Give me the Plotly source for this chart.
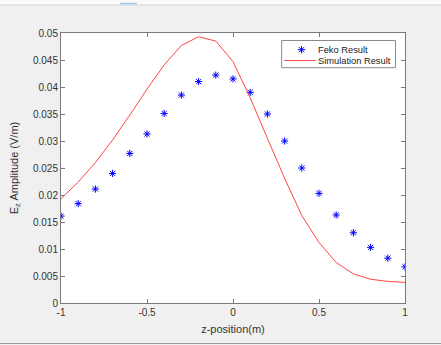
import plotly.graph_objects as go

z_pos = [-1.0, -0.9, -0.8, -0.7, -0.6, -0.5, -0.4, -0.3, -0.2, -0.1, 0.0,
         0.1, 0.2, 0.3, 0.4, 0.5, 0.6, 0.7, 0.8, 0.9, 1.0]
feko = [0.0161, 0.0184, 0.0211, 0.0240, 0.0277, 0.0313, 0.0351, 0.0385, 0.0410,
        0.0422, 0.0415, 0.0390, 0.0350, 0.0300, 0.0250, 0.0203, 0.0163, 0.0130,
        0.0103, 0.0083, 0.0067]
sim = [0.0193, 0.0224, 0.0260, 0.0302, 0.0348, 0.0396, 0.0441, 0.0477, 0.0493,
       0.0485, 0.0447, 0.0380, 0.0305, 0.0231, 0.0162, 0.0112, 0.0075, 0.0054,
       0.0044, 0.0040, 0.0038]

x_ticks = [-1, -0.5, 0, 0.5, 1]
x_tick_text = ["-1", "-0.5", "0", "0.5", "1"]
y_ticks = [0, 0.005, 0.01, 0.015, 0.02, 0.025, 0.03, 0.035, 0.04, 0.045, 0.05]
y_tick_text = ["0", "0.005", "0.01", "0.015", "0.02", "0.025", "0.03", "0.035", "0.04", "0.045", "0.05"]
legend_names = ["Feko Result", "Simulation Result"]

FONT = "Liberation Sans, Arial, sans-serif"
BLUE = "#0000ff"
RED = "#ff3030"

# plot area in pixels: x 61..405, y 33..303
def px(x):
    return (x - 61) / 344

def py(y):
    return (303 - y) / 270

fig = go.Figure()
fig.add_trace(go.Scatter(
    x=z_pos, y=feko, mode="markers", name=legend_names[0], showlegend=False,
    marker=dict(symbol="asterisk-open", size=6, color=BLUE,
                line=dict(color=BLUE, width=1)),
))
fig.add_trace(go.Scatter(
    x=z_pos, y=sim, mode="lines", name=legend_names[1], showlegend=False,
    line=dict(color=RED, width=0.9),
))
# legend sample marker on an overlay axis spanning the plot area
fig.add_trace(go.Scatter(
    x=[px(301.5)], y=[py(49.7)], xaxis="x2", yaxis="y2", mode="markers",
    showlegend=False, hoverinfo="skip",
    marker=dict(symbol="asterisk-open", size=6, color=BLUE,
                line=dict(color=BLUE, width=1)),
))

axis_common = dict(
    showgrid=False, zeroline=False, showline=True, linecolor="#7a7a7a",
    linewidth=1, mirror="allticks", ticks="inside", ticklen=4,
    tickcolor="#7a7a7a", tickfont=dict(family=FONT, size=10, color="#333333"),
)

fig.update_layout(
    width=441, height=345,
    margin=dict(l=61, r=36, t=33, b=42),
    paper_bgcolor="#f0f0f0", plot_bgcolor="#ffffff",
    showlegend=False,
    xaxis=dict(
        range=[-1, 1], tickvals=x_ticks, ticktext=x_tick_text,
        title=dict(text="z-position(m)", font=dict(family=FONT, size=11, color="#333333"),
                   standoff=8),
        **axis_common,
    ),
    yaxis=dict(
        range=[0, 0.05], tickvals=y_ticks, ticktext=y_tick_text,
        title=dict(text="E<sub>z</sub> Amplitude (V/m)",
                   font=dict(family=FONT, size=11, color="#333333"), standoff=12),
        **axis_common,
    ),
    xaxis2=dict(range=[0, 1], overlaying="x", visible=False, fixedrange=True),
    yaxis2=dict(range=[0, 1], overlaying="y", visible=False, fixedrange=True),
    annotations=[
        dict(xref="paper", yref="paper", x=px(316), y=py(50), xanchor="left",
             yanchor="middle", text=legend_names[0], showarrow=False,
             font=dict(family=FONT, size=9.3, color="#222222")),
        dict(xref="paper", yref="paper", x=px(316), y=py(61), xanchor="left",
             yanchor="middle", text=legend_names[1], showarrow=False,
             font=dict(family=FONT, size=9.3, color="#222222")),
    ],
    shapes=[
        dict(type="rect", xref="paper", yref="paper", x0=-0.2, x1=1.2,
             y0=py(4.5), y1=1.3, fillcolor="#fafafa", line=dict(width=0),
             layer="below"),
        dict(type="line", xref="paper", yref="paper", x0=-0.2, x1=1.2,
             y0=py(5), y1=py(5), line=dict(color="#d4d4d4", width=1)),
        dict(type="line", xref="paper", yref="paper", x0=px(120), x1=px(137),
             y0=py(3.5), y1=py(3.5), line=dict(color="#9cc8ee", width=1.5)),
        dict(type="line", xref="paper", yref="paper", x0=-0.2, x1=1.2,
             y0=py(343.5), y1=py(343.5), line=dict(color="#9a9a9a", width=1)),
        # legend box and line sample
        dict(type="rect", xref="paper", yref="paper", x0=px(281.7), x1=px(395.5),
             y0=py(67.7), y1=py(40.5), line=dict(color="#8a8a8a", width=1),
             fillcolor="rgba(255,255,255,0)", layer="above"),
        dict(type="line", xref="paper", yref="paper", x0=px(284.3), x1=px(315.7),
             y0=py(60.5), y1=py(60.5), line=dict(color=RED, width=0.9), layer="above"),
    ],
)

fig.write_html("out.html")
